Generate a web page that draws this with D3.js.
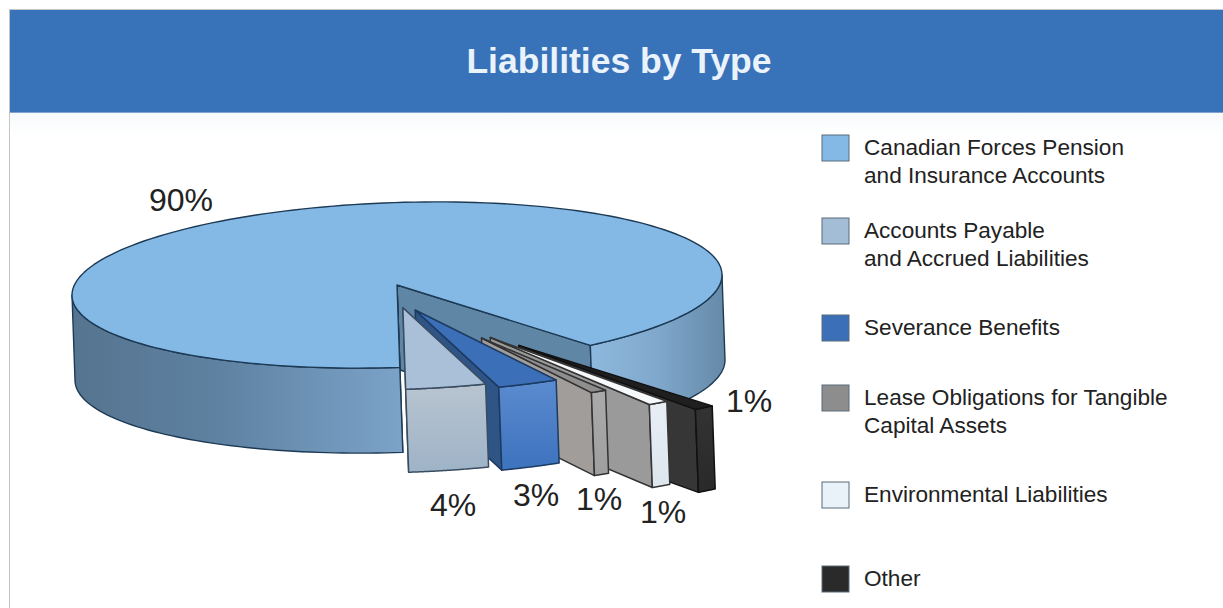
<!DOCTYPE html>
<html>
<head>
<meta charset="utf-8">
<style>
  html, body { margin: 0; padding: 0; background: #fff; }
  svg { display: block; }
  text { font-family: "Liberation Sans", Arial, sans-serif; fill: #222; }
</style>
<script src="https://cdn.jsdelivr.net/npm/d3@7/dist/d3.min.js"></script>
</head>
<body>
<script>
// Liabilities by type, in legend order
const categories = [
  ["Canadian Forces Pension", "and Insurance Accounts"],
  ["Accounts Payable", "and Accrued Liabilities"],
  ["Severance Benefits"],
  ["Lease Obligations for Tangible", "Capital Assets"],
  ["Environmental Liabilities"],
  ["Other"]
];
const shares = [90, 4, 3, 1, 1, 1];

const W = 1223, H = 608;
const svg = d3.select("body").append("svg").attr("width", W).attr("height", H);

// Unit-disc to page projection: a tilted, flattened disc seen from above
const discX = d3.scaleLinear().domain([-1, 1]).range([72, 722]);
const discY = d3.scaleLinear().domain([-1, 1]).range([202.5, 367.5]);
const tilt = -0.031;            // page-y drift per unit of page-x
const mainDepth = [3, 85];      // top face to bottom face, main slice
const sliceDepth = [3, 83];     // top face to bottom face, exploded slices
const project = (u, v, depth) => {
  const x = discX(u), y = discY(v) + tilt * (x - discX(0));
  return depth ? [x + depth[0], y + depth[1]] : [x, y];
};

// Pie layout runs counter-clockwise so the small slices follow the big one
const pie = d3.pie().sort(null).value(d => d)
  .startAngle(143.5 * Math.PI / 180)
  .endAngle((143.5 - 360) * Math.PI / 180);
const arcs = pie(shares);

// Per-slice styling and explosion, in legend order
const explode = [[0, 0], [0.018, 0.277], [0.056, 0.31], [0.26, 0.674], [0.287, 0.672], [0.375, 0.78]];
const reach = [1, 0.99, 1, 0.78, 1, 1];
const topFill = ["#84b9e6", "#a9c0d8", "#3b70b9", "#8e8e8e", "#f7fafc", "#1f1f1f"];
const wallFill = ["#5f86a4", "#9db2c8", "#2f5587", "#a09d9a", "#9a9a9a", "#363636"];
const rimStops = [
  null,
  ["#b8c4d0", "#a0b4c8"],
  ["#5b8bcf", "#3f74bf"],
  ["#aaaaaa", "#9f9f9f"],
  ["#e8eef4", "#dde6ee"],
  ["#333333", "#2a2a2a"]
];
const swatchFill = ["#84b9e6", "#a3bdd6", "#3b70b9", "#8d8d8d", "#e9f2f9", "#2a2a2a"];
const stroke = "#1d3a55";
const darkStroke = ["#1c4a70", "#3a4d60", "#1d3a62", "#333", "#333", "#111"];

const defs = svg.append("defs");

function gradient(id, x1, y1, x2, y2, stops) {
  const g = defs.append("linearGradient").attr("id", id)
    .attr("gradientUnits", "userSpaceOnUse")
    .attr("x1", x1).attr("x2", x2).attr("y1", y1).attr("y2", y2);
  stops.forEach(([o, c]) => g.append("stop").attr("offset", o).attr("stop-color", c));
  return `url(#${id})`;
}

const line = d3.line();
const polar = (a, r, o) => [o[0] + r * Math.sin(a), o[1] - r * Math.cos(a)];
const sweep = (a0, a1, n) => d3.range(n + 1).map(i => a0 + (a1 - a0) * i / n);

// Outer wall between two angles, as top edge then reversed bottom edge
function rimPath(a0, a1, r, o, depth) {
  const pts = sweep(a0, a1, 60).map(a => polar(a, r, o));
  const top = pts.map(p => project(p[0], p[1]));
  const bot = pts.map(p => project(p[0], p[1], depth)).reverse();
  return line(top.concat(bot)) + "Z";
}
// Radial cut wall running from the slice centre to its rim
function cutPath(a, r, o, depth) {
  const p = polar(a, r, o);
  return line([project(o[0], o[1]), project(p[0], p[1]),
               project(p[0], p[1], depth), project(o[0], o[1], depth)]) + "Z";
}
function topPath(a0, a1, r, o) {
  const pts = sweep(a0, a1, 180).map(a => polar(a, r, o));
  return line([o].concat(pts).map(p => project(p[0], p[1]))) + "Z";
}

// Page furniture
svg.append("rect").attr("x", 9).attr("y", 9).attr("width", 1).attr("height", H - 9).attr("fill", "#c4c4c4");
svg.append("rect").attr("x", 9).attr("y", 9).attr("width", W - 9).attr("height", 1).attr("fill", "#c4c4c4");
svg.append("rect").attr("x", 10).attr("y", 113).attr("width", W - 10).attr("height", 22)
  .attr("fill", gradient("bandFade", 0, 113, 0, 135, [[0, "#f6fafc"], [1, "#ffffff"]]));
svg.append("rect").attr("x", 10).attr("y", 10).attr("width", W - 10).attr("height", 103).attr("fill", "#3872b9");
svg.append("rect").attr("x", 10).attr("y", 112).attr("width", W - 10).attr("height", 1).attr("fill", "#7fa3d2");
svg.append("text").attr("x", 619).attr("y", 72.5).attr("text-anchor", "middle")
  .attr("font-size", 35.5).attr("font-weight", 700).style("fill", "#eaf2fb").text("Liabilities by Type");

const chart = svg.append("g").attr("stroke-linejoin", "round");

// Main slice, drawn first so the exploded slices sit in front of it
const main = arcs[0];
const deg = Math.PI / 180;
const g0 = chart.append("g").attr("stroke", stroke).attr("stroke-width", 1.4);
g0.append("path").attr("d", cutPath(main.startAngle, 1, [0, 0], mainDepth)).attr("fill", wallFill[0]);
g0.append("path").attr("d", cutPath(main.endAngle, 1, [0, 0], mainDepth)).attr("fill", wallFill[0]);
g0.append("path").attr("d", rimPath(main.startAngle, 90 * deg, 1, [0, 0], mainDepth))
  .attr("fill", gradient("rimRight", 591, 0, 724, 0, [[0, "#8fb8de"], [0.5, "#80a8cc"], [1, "#668aa8"]]));
g0.append("path").attr("d", rimPath(-90 * deg, main.endAngle, 1, [0, 0], mainDepth))
  .attr("fill", gradient("rimLeft", 72, 0, 403, 0, [[0, "#55748f"], [0.45, "#5f82a2"], [1, "#7ba3c8"]]));
g0.append("path").attr("d", topPath(main.startAngle, main.endAngle, 1, [0, 0])).attr("fill", topFill[0]);

// Exploded slices, back to front
d3.range(arcs.length - 1, 0, -1).forEach(i => {
  const a = arcs[i], o = explode[i], r = reach[i];
  // startAngle is the cut facing the viewer's left, endAngle the hidden one
  const g = chart.append("g").attr("stroke", darkStroke[i]).attr("stroke-width", 1.5);
  const corner = project(...polar(a.endAngle, r, o));
  g.append("path").attr("d", cutPath(a.startAngle, r, o, sliceDepth)).attr("fill", wallFill[i]);
  g.append("path").attr("d", rimPath(a.startAngle, a.endAngle, r, o, sliceDepth))
    .attr("fill", gradient(`rim${i}`, 0, corner[1], 0, corner[1] + sliceDepth[1],
      [[0, rimStops[i][0]], [1, rimStops[i][1]]]));
  g.append("path").attr("d", topPath(a.startAngle, a.endAngle, r, o)).attr("fill", topFill[i]);
});

// Percentage labels, one per slice
const labelAnchor = [[149, 211], [430, 516], [513, 506], [576, 510], [640, 523], [726, 412]];
svg.append("g").selectAll("text").data(shares).join("text")
  .attr("x", (d, i) => labelAnchor[i][0])
  .attr("y", (d, i) => labelAnchor[i][1])
  .attr("font-size", 32)
  .text(d => d + "%");

// Legend
const legendTop = [135, 218, 315, 385, 482, 566];
const legend = svg.append("g").selectAll("g").data(categories).join("g")
  .attr("transform", (d, i) => `translate(822,${legendTop[i]})`);
legend.append("rect").attr("width", 27).attr("height", 26)
  .attr("fill", (d, i) => swatchFill[i]).attr("stroke", "#5a6b7a").attr("stroke-width", 1);
legend.append("text").attr("x", 42).attr("font-size", 22.6)
  .selectAll("tspan").data(d => d).join("tspan")
  .attr("x", 42).attr("y", (d, j) => 20 + j * 27.5).text(d => d);
</script>
</body>
</html>
